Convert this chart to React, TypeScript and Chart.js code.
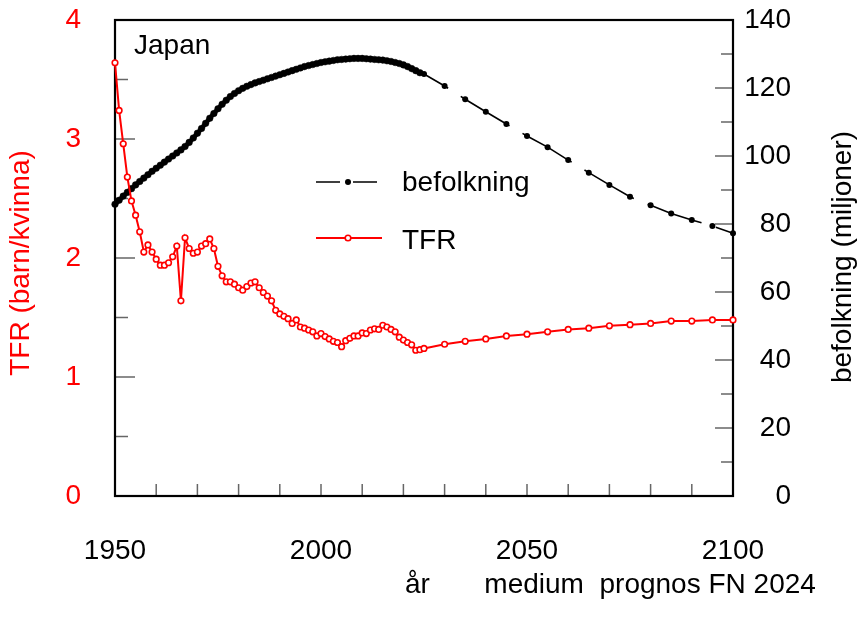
import React, { useEffect, useRef } from 'react';
import { Chart, registerables } from 'chart.js';

Chart.register(...registerables);

// ---------- data ----------
const HIST_START_YEAR = 1950;

// TFR (children per woman), annual 1950–2024
const TFR_HIST = [
  3.64, 3.24, 2.96, 2.68, 2.48, 2.36, 2.22, 2.05, 2.11, 2.05,
  1.99, 1.94, 1.94, 1.96, 2.01, 2.10, 1.64, 2.17, 2.08, 2.04,
  2.05, 2.10, 2.12, 2.16, 2.08, 1.93, 1.85, 1.80, 1.80, 1.78,
  1.75, 1.73, 1.76, 1.79, 1.80, 1.75, 1.71, 1.68, 1.64, 1.56,
  1.53, 1.51, 1.49, 1.45, 1.48, 1.42, 1.41, 1.395, 1.38, 1.345,
  1.365, 1.34, 1.32, 1.30, 1.29, 1.255, 1.305, 1.325, 1.345, 1.345,
  1.37, 1.365, 1.395, 1.405, 1.40, 1.435, 1.42, 1.40, 1.38, 1.335,
  1.31, 1.29, 1.27, 1.225, 1.23,
];

// population (millions), annual 1950–2024
const POP_HIST = [
  85.8, 87.0, 88.2, 89.3, 90.4, 91.5, 92.5, 93.5, 94.5, 95.5,
  96.4, 97.3, 98.2, 99.1, 100.0, 100.9, 101.8, 102.8, 104.0, 105.3,
  106.7, 108.1, 109.6, 111.1, 112.5, 113.9, 115.2, 116.4, 117.5, 118.4,
  119.2, 119.9, 120.5, 121.0, 121.5, 121.9, 122.3, 122.7, 123.1, 123.5,
  123.9, 124.3, 124.7, 125.1, 125.5, 125.9, 126.3, 126.6, 126.9, 127.2,
  127.5, 127.7, 127.9, 128.1, 128.3, 128.4, 128.5, 128.6, 128.7, 128.7,
  128.7, 128.6, 128.5, 128.4, 128.3, 128.2, 128.0, 127.8, 127.5, 127.2,
  126.8, 126.3, 125.7, 125.1, 124.5,
];

// UN 2024 medium projection, every 5 years
const PROJ_YEARS = [2025, 2030, 2035, 2040, 2045, 2050, 2055, 2060, 2065, 2070, 2075, 2080, 2085, 2090, 2095, 2100];
const TFR_PROJ = [1.24, 1.275, 1.30, 1.32, 1.345, 1.36, 1.38, 1.40, 1.41, 1.43, 1.44, 1.45, 1.47, 1.47, 1.48, 1.48];
const POP_PROJ = [124.1, 120.6, 116.7, 113.0, 109.4, 105.9, 102.6, 98.8, 95.1, 91.5, 88.0, 85.5, 83.1, 81.2, 79.4, 77.3];

// axes
const X_MIN = 1950;
const X_MAX = 2100;
const X_TICK_STEP = 10;
const X_TICK_LABELS = [1950, 2000, 2050, 2100];
const TFR_MIN = 0;
const TFR_MAX = 4;
const TFR_LABEL_STEP = 1;
const TFR_MINOR_STEP = 0.5;
const POP_MIN = 0;
const POP_MAX = 140;
const POP_LABEL_STEP = 20;
const POP_MINOR_STEP = 10;

// texts
const COUNTRY = 'Japan';
const LEGEND_POP = 'befolkning';
const LEGEND_TFR = 'TFR';
const LEFT_TITLE = 'TFR (barn/kvinna)';
const RIGHT_TITLE = 'befolkning (miljoner)';
const X_SUBTITLE = 'år       medium  prognos FN 2024';

// ---------- style ----------
const FONT = "'Liberation Sans', Arial, sans-serif";
const FS = 28;
const RED = '#ff0000';
const TICK_COLOR = '#666666';

const decorPlugin = {
  id: 'decor',
  beforeDatasetsDraw(chart: any) {
    const { ctx, chartArea: a, scales } = chart;
    ctx.save();
    ctx.strokeStyle = TICK_COLOR;
    ctx.lineWidth = 1.5;
    const line = (x1: number, y1: number, x2: number, y2: number) => {
      ctx.beginPath();
      ctx.moveTo(x1, y1);
      ctx.lineTo(x2, y2);
      ctx.stroke();
    };
    const xs = scales.x;
    for (let v = X_MIN; v <= X_MAX + 1e-9; v += X_TICK_STEP) {
      const px = xs.getPixelForValue(v);
      line(px, a.bottom, px, a.bottom - 12);
    }
    const yl = scales.y;
    for (let v = TFR_MIN; v <= TFR_MAX + 1e-9; v += TFR_MINOR_STEP) {
      const py = yl.getPixelForValue(v);
      const major = Math.abs(v / TFR_LABEL_STEP - Math.round(v / TFR_LABEL_STEP)) < 1e-6;
      line(a.left, py, a.left + (major ? 20 : 13), py);
    }
    const yr = scales.y2;
    for (let v = POP_MIN; v <= POP_MAX + 1e-9; v += POP_MINOR_STEP) {
      const py = yr.getPixelForValue(v);
      const major = v % POP_LABEL_STEP === 0;
      line(a.right - (major ? 18 : 12), py, a.right, py);
    }
    ctx.strokeStyle = '#000';
    ctx.lineWidth = 2.2;
    ctx.strokeRect(a.left, a.top, a.right - a.left, a.bottom - a.top);
    ctx.restore();
  },
  afterDraw(chart: any) {
    const { ctx } = chart;
    ctx.save();
    ctx.font = `${FS}px ${FONT}`;
    ctx.textBaseline = 'alphabetic';
    ctx.textAlign = 'left';

    // country
    ctx.fillStyle = '#000';
    ctx.fillText(COUNTRY, 134, 54);

    // legend: population
    ctx.strokeStyle = '#000';
    ctx.lineWidth = 1.6;
    ctx.beginPath();
    ctx.moveTo(316, 182); ctx.lineTo(340, 182);
    ctx.moveTo(353, 182); ctx.lineTo(377, 182);
    ctx.stroke();
    ctx.beginPath();
    ctx.arc(348, 182, 3, 0, Math.PI * 2);
    ctx.fillStyle = '#000';
    ctx.fill();
    ctx.fillText(LEGEND_POP, 402, 190.5);

    // legend: TFR
    ctx.strokeStyle = RED;
    ctx.lineWidth = 2;
    ctx.beginPath();
    ctx.moveTo(316, 238); ctx.lineTo(382, 238);
    ctx.stroke();
    ctx.beginPath();
    ctx.arc(348, 238, 2.8, 0, Math.PI * 2);
    ctx.fillStyle = '#fff';
    ctx.fill();
    ctx.lineWidth = 1.6;
    ctx.stroke();
    ctx.fillStyle = '#000';
    ctx.fillText(LEGEND_TFR, 402, 248.5);

    // x subtitle
    ctx.fillText(X_SUBTITLE, 405, 593);

    // axis titles
    ctx.textAlign = 'center';
    ctx.textBaseline = 'middle';
    ctx.save();
    ctx.translate(21, 263);
    ctx.rotate(-Math.PI / 2);
    ctx.fillStyle = RED;
    ctx.fillText(LEFT_TITLE, 0, 0);
    ctx.restore();
    ctx.save();
    ctx.translate(843, 257);
    ctx.rotate(-Math.PI / 2);
    ctx.fillStyle = '#000';
    ctx.fillText(RIGHT_TITLE, 0, 0);
    ctx.restore();

    ctx.restore();
  },
};

export default function App() {
  const ref = useRef<HTMLCanvasElement>(null);

  useEffect(() => {
    const histYears = TFR_HIST.map((_, i) => HIST_START_YEAR + i);
    const tfrData = [
      ...histYears.map((x, i) => ({ x, y: TFR_HIST[i] })),
      ...PROJ_YEARS.map((x, i) => ({ x, y: TFR_PROJ[i] })),
    ];
    const popHist = histYears.map((x, i) => ({ x, y: POP_HIST[i] }));
    const popProj = PROJ_YEARS.map((x, i) => ({ x, y: POP_PROJ[i] }));
    const font = { family: FONT, size: FS };
    const noPadV = (s: any) => { s.paddingTop = 0; s.paddingBottom = 0; };

    const chart = new Chart(ref.current as HTMLCanvasElement, {
      type: 'line',
      data: {
        datasets: [
          {
            label: LEGEND_TFR,
            data: tfrData,
            yAxisID: 'y',
            borderColor: RED,
            borderWidth: 2,
            pointRadius: 2.8,
            pointBorderWidth: 1.6,
            pointBackgroundColor: '#ffffff',
            pointBorderColor: RED,
            tension: 0,
            clip: false as any,
            order: 0,
          },
          {
            label: LEGEND_POP,
            data: popHist,
            yAxisID: 'y2',
            borderColor: '#000',
            borderWidth: 4.5,
            pointRadius: 3.3,
            pointBorderWidth: 0.5,
            pointBackgroundColor: '#000',
            pointBorderColor: '#000',
            tension: 0,
            clip: false as any,
            order: 2,
          },
          {
            label: LEGEND_POP + ' prognos',
            data: popProj,
            yAxisID: 'y2',
            borderColor: '#000',
            borderWidth: 1.6,
            borderDash: [57, 15],
            borderDashOffset: 29,
            pointRadius: 3,
            pointBorderWidth: 0,
            pointBackgroundColor: '#000',
            tension: 0,
            clip: false as any,
            order: 1,
          },
        ],
      },
      options: {
        animation: false,
        responsive: false,
        devicePixelRatio: 1,
        events: [],
        layout: { padding: { top: 20, left: 0, right: 66, bottom: 0 } },
        plugins: { legend: { display: false }, tooltip: { enabled: false } },
        scales: {
          x: {
            type: 'linear',
            min: X_MIN,
            max: X_MAX,
            grid: { display: false, drawTicks: false },
            border: { display: false },
            ticks: {
              stepSize: X_TICK_STEP,
              autoSkip: false,
              maxRotation: 0,
              minRotation: 0,
              padding: 38,
              color: '#000',
              font,
              callback: (v: any) => (X_TICK_LABELS.includes(Number(v)) ? String(v) : ''),
            },
            afterFit: (s: any) => { s.height = 140; s.paddingLeft = 0; s.paddingRight = 0; },
          },
          y: {
            type: 'linear',
            position: 'left',
            min: TFR_MIN,
            max: TFR_MAX,
            grid: { display: false, drawTicks: false },
            border: { display: false },
            ticks: { stepSize: TFR_LABEL_STEP, padding: 34, color: RED, font, callback: (v: any) => String(v) },
            afterFit: (s: any) => { s.width = 115; noPadV(s); },
          },
          y2: {
            type: 'linear',
            position: 'right',
            min: POP_MIN,
            max: POP_MAX,
            grid: { display: false, drawTicks: false },
            border: { display: false },
            ticks: { stepSize: POP_LABEL_STEP, padding: 11, crossAlign: 'far', color: '#000', font, callback: (v: any) => String(v) },
            afterFit: (s: any) => { s.width = 58; noPadV(s); },
          },
        },
      } as any,
      plugins: [decorPlugin],
    });
    return () => chart.destroy();
  }, []);

  return (
    <div style={{ position: 'fixed', left: 0, top: 0, width: 857, height: 636, background: '#fff' }}>
      <canvas ref={ref} width={857} height={636} style={{ display: 'block', width: 857, height: 636 }} />
    </div>
  );
}
